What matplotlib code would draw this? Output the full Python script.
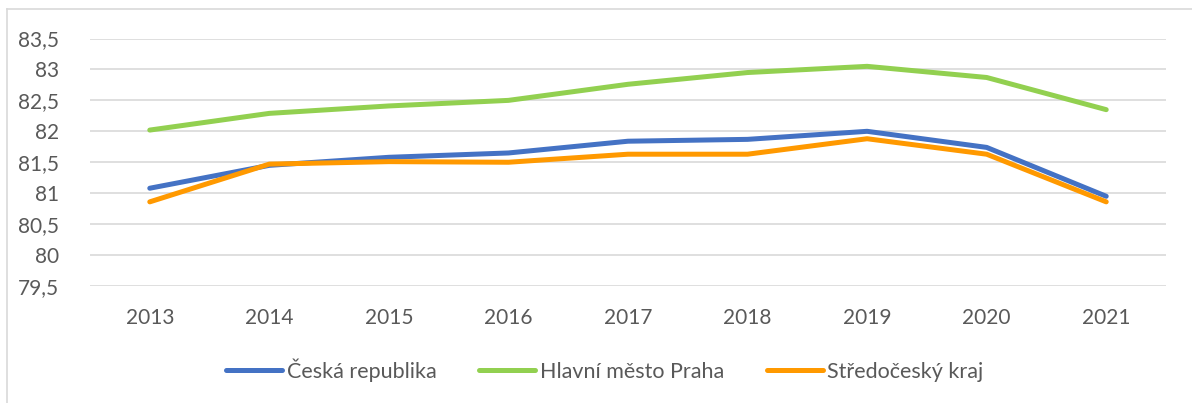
import matplotlib.pyplot as plt
from matplotlib.lines import Line2D
import matplotlib.ticker as ticker

years = ['2013', '2014', '2015', '2016', '2017', '2018', '2019', '2020', '2021']
cr = [81.08, 81.45, 81.58, 81.65, 81.84, 81.87, 82.0, 81.74, 80.95]
praha = [82.02, 82.29, 82.41, 82.5, 82.76, 82.95, 83.05, 82.87, 82.35]
stc = [80.86, 81.47, 81.51, 81.5, 81.63, 81.63, 81.88, 81.63, 80.86]

labels = ['Česká republika', 'Hlavní město Praha', 'Středočeský kraj']
colors = ['#4472C4', '#92D050', '#FF9900']

plt.rcParams['font.family'] = ['Lato', 'DejaVu Sans']

fig = plt.figure(figsize=(11.92, 4.03), dpi=100)
ax = fig.add_axes([90 / 1192, 117 / 403, 1076 / 1192, 247.5 / 403])

x = list(range(len(years)))
for vals, lab, col in zip([cr, praha, stc], labels, colors):
    ax.plot(x, vals, color=col, linewidth=3.6, label=lab, solid_capstyle='round', solid_joinstyle='round')

ax.set_xlim(-0.5, len(years) - 0.5)
ax.set_ylim(79.5, 83.5)
ax.set_xticks(x)
ax.set_xticklabels(years)
ax.yaxis.set_major_locator(ticker.MultipleLocator(0.5))
ax.yaxis.set_major_formatter(ticker.FuncFormatter(lambda v, _: f"{v:g}".replace('.', ',')))
ax.tick_params(length=0, labelsize=15, colors='#595959')
ax.tick_params(axis='y', pad=22)
ax.tick_params(axis='x', pad=16)
ax.grid(axis='y', color='#d9d9d9', linewidth=1.2)
ax.set_axisbelow(True)
for s in ax.spines.values():
    s.set_visible(False)

leg = fig.legend(loc='center', bbox_to_anchor=(605 / 1192, 1 - 370 / 403), ncol=3, frameon=False,
                 fontsize=15.5, handlelength=2.6, handletextpad=0.2, columnspacing=2.0)
for t in leg.get_texts():
    t.set_color('#595959')

# chart frame
fig.add_artist(Line2D([7 / 1192, 1], [1 - 9 / 403, 1 - 9 / 403], color='#d9d9d9', linewidth=1.2))
fig.add_artist(Line2D([7 / 1192, 7 / 1192], [0, 1 - 9 / 403], color='#d9d9d9', linewidth=1.2))

fig.savefig('out.png', dpi=100)
